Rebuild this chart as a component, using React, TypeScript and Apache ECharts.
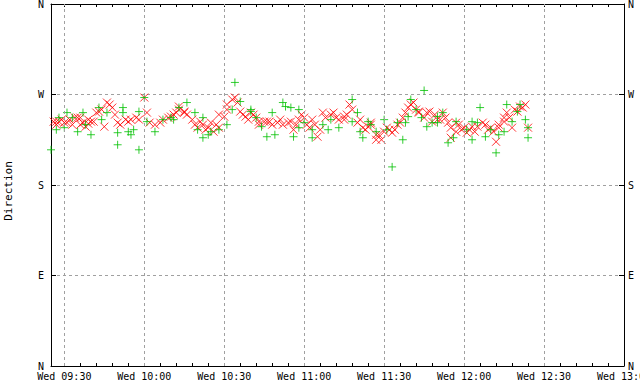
import React, { useEffect, useRef } from "react";
import * as echarts from "echarts";

// time axis: minutes of the day
const START_MIN = 565; // 09:25
const END_MIN = 780; // 13:00
const DAY = "Wed";
const majorTimes = [570, 600, 630, 660, 690, 720, 750, 780];
const minorTimes: number[] = [];
for (let t = 570; t <= END_MIN; t += 6) minorTimes.push(t);

const dirTicks = [0, 90, 180, 270, 360];
const dirNames: Record<number, string> = { 0: "N", 90: "E", 180: "S", 270: "W", 360: "N" };

// [minutes after 09:25, direction in degrees]
const redPoints: [number, number][] = [
  [1, 243], [2, 240], [2, 243], [3, 243], [4, 245], [5, 242], [6, 242], [7, 245], [8, 240], [9, 247],
  [10, 247], [11, 240], [11, 247], [12, 242], [13, 238], [14, 245], [14, 241], [15, 243], [16, 243], [17, 252],
  [18, 253], [19, 255], [20, 238], [21, 262], [22, 260], [23, 257], [24, 250], [25, 242], [26, 240], [28, 245],
  [29, 243], [30, 245], [32, 247], [33, 245], [35, 267], [36, 252], [37, 242], [39, 240], [41, 242], [42, 245],
  [44, 247], [45, 248], [46, 250], [47, 252], [48, 258], [48, 255], [50, 253], [50, 252], [51, 250], [53, 245],
  [54, 240], [55, 237], [56, 243], [57, 240], [58, 235], [59, 237], [60, 242], [61, 233], [62, 240], [63, 250],
  [63, 237], [65, 248], [66, 255], [66, 260], [68, 265], [69, 267], [70, 262], [71, 253], [72, 250], [73, 248],
  [74, 245], [75, 252], [76, 250], [77, 247], [78, 243], [78, 240], [80, 243], [81, 243], [82, 243], [83, 240],
  [85, 242], [86, 245], [87, 240], [89, 242], [90, 243], [91, 235], [92, 240], [93, 245], [94, 250], [95, 247],
  [96, 240], [97, 237], [98, 245], [99, 240], [100, 228], [101, 235], [102, 252], [103, 247], [105, 250], [106, 252],
  [107, 247], [108, 245], [110, 248], [110, 245], [111, 250], [112, 260], [113, 255], [115, 242], [116, 245], [117, 237],
  [118, 235], [119, 238], [120, 240], [120, 242], [122, 230], [122, 225], [123, 230], [124, 225], [125, 233], [126, 237],
  [127, 235], [128, 232], [129, 235], [130, 240], [131, 242], [132, 247], [133, 252], [134, 257], [135, 260], [136, 262],
  [137, 255], [138, 253], [138, 252], [140, 247], [141, 252], [142, 253], [143, 243], [144, 250], [145, 245], [146, 245],
  [147, 252], [148, 247], [149, 242], [150, 227], [150, 237], [152, 242], [152, 233], [153, 240], [154, 235], [155, 237],
  [156, 232], [157, 235], [158, 238], [159, 233], [160, 238], [162, 242], [163, 240], [164, 235], [165, 237], [166, 233],
  [167, 223], [168, 237], [168, 240], [170, 243], [170, 247], [171, 252], [172, 247], [173, 237], [174, 255], [175, 253],
  [176, 258], [177, 257], [178, 260], [179, 237],
];

const greenPoints: [number, number][] = [
  [0, 215], [2, 235], [3, 247], [5, 237], [6, 252], [8, 247], [10, 233], [12, 252], [13, 240], [15, 230],
  [18, 257], [19, 245], [21, 252], [25, 232], [25, 220], [27, 257], [27, 252], [29, 233], [30, 230], [31, 235],
  [33, 215], [33, 253], [35, 267], [36, 243], [39, 233], [42, 245], [45, 247], [46, 245], [48, 257], [51, 262],
  [54, 252], [55, 235], [57, 247], [57, 227], [59, 230], [60, 233], [63, 235], [66, 240], [68, 255], [69, 282],
  [71, 263], [75, 255], [75, 253], [77, 247], [79, 238], [81, 228], [83, 252], [84, 230], [87, 262], [88, 258],
  [90, 257], [91, 228], [93, 237], [93, 255], [95, 242], [98, 227], [98, 235], [102, 240], [104, 235], [105, 245],
  [108, 237], [113, 265], [113, 243], [115, 252], [116, 233], [117, 227], [119, 243], [120, 240], [122, 233], [125, 245],
  [126, 235], [128, 198], [130, 242], [132, 225], [133, 242], [134, 248], [135, 265], [137, 255], [139, 247], [140, 274],
  [141, 238], [143, 242], [145, 242], [145, 248], [147, 252], [149, 222], [151, 227], [152, 243], [156, 235], [158, 243],
  [158, 225], [160, 242], [161, 257], [163, 228], [165, 235], [167, 212], [168, 230], [170, 233], [171, 260], [173, 243],
  [175, 253], [176, 260], [178, 245], [179, 227], [179, 237],
];

const FONT = "DejaVu Sans Mono";
const CROSS = "path://M0,0L10,10M10,0L0,10";
const PLUS = "path://M5,0L5,10M0,5L10,5";

function clock(v: number): string {
  const h = Math.floor(v / 60);
  const m = Math.round(v % 60);
  return `${DAY} ${String(h).padStart(2, "0")}:${String(m).padStart(2, "0")}`;
}

export default function App() {
  const ref = useRef<HTMLDivElement>(null);
  useEffect(() => {
    if (!ref.current) return;
    const chart = echarts.init(ref.current, undefined, { renderer: "svg" });
    const toData = (pts: [number, number][]) => pts.map(([m, d]) => [START_MIN + m, d]);
    const labelStyle = { color: "#000", fontFamily: FONT, fontSize: 10 };
    const yAxisBase = {
      type: "value",
      min: 0,
      max: 360,
      interval: 90,
      axisLine: { show: true, onZero: false, lineStyle: { color: "#000", width: 1 } },
      axisTick: { show: true, inside: true, length: 5, lineStyle: { color: "#000" } },
    };
    chart.setOption({
      animation: false,
      grid: { left: 51, right: 16, top: 4, bottom: 18, containLabel: false, outerBoundsMode: "none" },
      xAxis: [
        {
          type: "value",
          min: START_MIN,
          max: END_MIN,
          position: "bottom",
          axisLine: { show: true, onZero: false, lineStyle: { color: "#000", width: 1 } },
          axisTick: { show: true, inside: true, length: 3, customValues: minorTimes, lineStyle: { color: "#000" } },
          axisLabel: { show: true, customValues: majorTimes, formatter: (v: number) => clock(v), margin: 5, hideOverlap: false, ...labelStyle },
          splitLine: { show: false },
        },
        {
          type: "value",
          min: START_MIN,
          max: END_MIN,
          position: "top",
          axisLine: { show: true, onZero: false, lineStyle: { color: "#000", width: 1 } },
          axisTick: { show: true, inside: true, length: 3, customValues: minorTimes, lineStyle: { color: "#000" } },
          axisLabel: { show: false },
          splitLine: { show: false },
        },
      ],
      yAxis: [
        {
          ...yAxisBase,
          position: "left",
          axisLabel: { formatter: (v: number) => dirNames[v] ?? "", margin: 7, ...labelStyle },
          splitLine: { show: true, showMinLine: false, showMaxLine: false, lineStyle: { color: "#a0a0a0", type: [3, 3], width: 1 } },
        },
        {
          ...yAxisBase,
          position: "right",
          axisLabel: { formatter: (v: number) => dirNames[v] ?? "", margin: 4, ...labelStyle },
          splitLine: { show: false },
        },
      ],
      graphic: [
        {
          type: "text",
          x: 8,
          y: 191,
          rotation: Math.PI / 2,
          style: { text: "Direction", fill: "#000", font: `11px "${FONT}"`, align: "center", verticalAlign: "middle" },
        },
      ],
      series: [
        {
          type: "line",
          data: [],
          silent: true,
          z: 1,
          markLine: {
            silent: true,
            symbol: "none",
            label: { show: false },
            lineStyle: { color: "#a0a0a0", type: [3, 3], width: 1 },
            data: majorTimes.filter((t) => t < END_MIN).map((t) => ({ xAxis: t })),
          },
        },
        {
          type: "scatter",
          name: "dir",
          data: toData(redPoints),
          symbol: CROSS,
          symbolSize: 8,
          itemStyle: { color: "rgba(0,0,0,0)", borderColor: "#ff0000", borderWidth: 1 },
          z: 3,
        },
        {
          type: "scatter",
          name: "gust",
          data: toData(greenPoints),
          symbol: PLUS,
          symbolSize: 8,
          itemStyle: { color: "rgba(0,0,0,0)", borderColor: "#00c000", borderWidth: 1 },
          z: 4,
        },
      ],
    });
    return () => chart.dispose();
  }, []);
  return <div ref={ref} style={{ position: "absolute", left: 0, top: 0, width: 640, height: 384 }} />;
}
